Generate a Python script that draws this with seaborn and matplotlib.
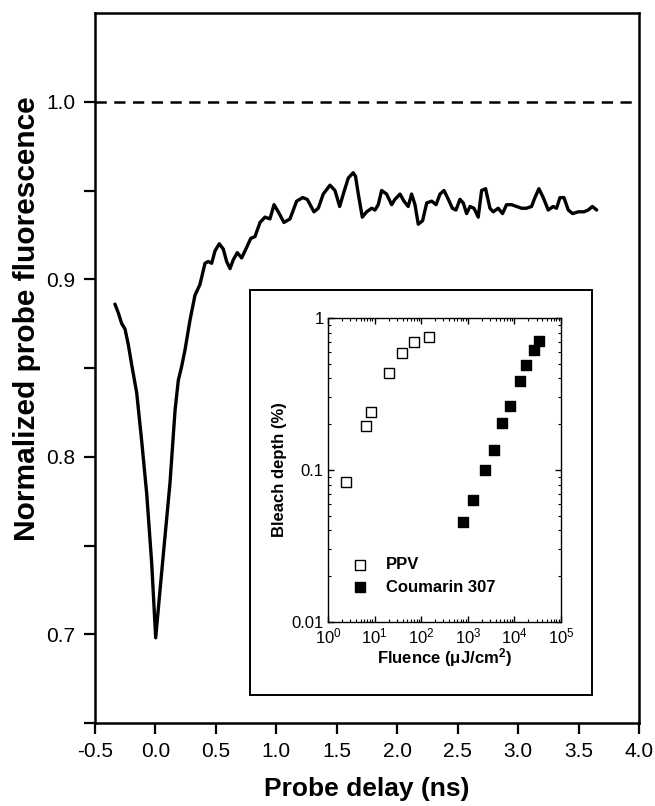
import matplotlib
matplotlib.use("Agg")
import matplotlib.pyplot as plt
import matplotlib.ticker as mticker
from matplotlib.patches import Rectangle
import pandas as pd
import seaborn as sns

# main trace: probe delay (ns) vs normalized probe fluorescence
delay_ns = [
    -0.335, -0.307, -0.279, -0.252, -0.224, -0.197, -0.155, -0.114, -0.072, -0.031,
    0.002, 0.038, 0.079, 0.120, 0.162, 0.189, 0.217, 0.244, 0.286, 0.327,
    0.368, 0.410, 0.437, 0.465, 0.493, 0.528, 0.561, 0.589, 0.617, 0.644,
    0.677, 0.713, 0.755, 0.788, 0.823, 0.865, 0.906, 0.947, 0.981, 1.016,
    1.063, 1.113, 1.168, 1.218, 1.256, 1.311, 1.347, 1.388, 1.444, 1.485,
    1.524, 1.554, 1.595, 1.636, 1.655, 1.678, 1.711, 1.747, 1.789, 1.816,
    1.843, 1.871, 1.912, 1.954, 1.981, 2.023, 2.056, 2.091, 2.119, 2.147,
    2.174, 2.210, 2.244, 2.285, 2.321, 2.354, 2.387, 2.423, 2.456, 2.486,
    2.519, 2.546, 2.574, 2.602, 2.635, 2.670, 2.698, 2.731, 2.767, 2.794,
    2.835, 2.871, 2.904, 2.946, 2.987, 3.029, 3.070, 3.111, 3.139, 3.172,
    3.208, 3.249, 3.291, 3.318, 3.346, 3.379, 3.415, 3.451, 3.498, 3.545,
    3.580, 3.614, 3.650,
]
fluor = [
    0.886, 0.881, 0.875, 0.872, 0.863, 0.852, 0.836, 0.809, 0.779, 0.740,
    0.698, 0.725, 0.755, 0.785, 0.826, 0.843, 0.851, 0.860, 0.877, 0.891,
    0.897, 0.909, 0.910, 0.909, 0.916, 0.920, 0.917, 0.910, 0.906, 0.911,
    0.915, 0.912, 0.918, 0.923, 0.924, 0.932, 0.935, 0.934, 0.942, 0.938,
    0.932, 0.934, 0.944, 0.946, 0.945, 0.938, 0.940, 0.948, 0.953, 0.950,
    0.941, 0.948, 0.957, 0.960, 0.958, 0.948, 0.935, 0.938, 0.940, 0.939,
    0.942, 0.950, 0.948, 0.942, 0.945, 0.948, 0.944, 0.941, 0.948, 0.942,
    0.931, 0.933, 0.943, 0.944, 0.942, 0.948, 0.950, 0.945, 0.940, 0.939,
    0.945, 0.943, 0.937, 0.941, 0.940, 0.935, 0.950, 0.951, 0.940, 0.938,
    0.940, 0.937, 0.942, 0.942, 0.941, 0.940, 0.940, 0.941, 0.946, 0.951,
    0.946, 0.939, 0.941, 0.940, 0.946, 0.946, 0.939, 0.937, 0.938, 0.938,
    0.939, 0.941, 0.939,
]

# inset: bleach depth vs fluence
ppv_fluence = [2.44, 6.6, 8.3, 20.8, 39.6, 71.8, 149]
ppv_bleach = [0.084, 0.194, 0.240, 0.433, 0.590, 0.698, 0.753]
c307_fluence = [773, 1294, 2297, 3659, 5521, 8091, 13460, 17850, 26540, 33340]
c307_bleach = [0.0453, 0.0635, 0.0995, 0.136, 0.205, 0.264, 0.387, 0.493, 0.616, 0.706]

sns.set_style("ticks", {"axes.edgecolor": "black", "text.color": "black",
                        "xtick.color": "black", "ytick.color": "black",
                        "axes.labelcolor": "black"})
plt.rcParams["font.family"] = ["Liberation Sans", "DejaVu Sans"]
plt.rcParams["mathtext.default"] = "regular"

W, H = 655, 806
fig = plt.figure(figsize=(W / 100, H / 100), dpi=100)

# main axes
ax = fig.add_axes([95 / W, 83 / H, 544 / W, 710 / H])
sns.lineplot(x=delay_ns, y=fluor, sort=False, estimator=None,
             color="black", linewidth=2.4, ax=ax)
ax.axhline(1.0, color="black", linestyle=(0, (4.5, 3)), linewidth=1.8)

ax.set_xlim(-0.5, 4.0)
ax.set_ylim(0.65, 1.05)
ax.xaxis.set_major_locator(mticker.MultipleLocator(0.5))
ax.xaxis.set_major_formatter(mticker.FormatStrFormatter("%.1f"))
ax.yaxis.set_major_locator(mticker.FixedLocator([0.7, 0.8, 0.9, 1.0]))
ax.yaxis.set_minor_locator(mticker.FixedLocator([0.65, 0.75, 0.85, 0.95]))
ax.yaxis.set_major_formatter(mticker.FormatStrFormatter("%.1f"))
ax.tick_params(axis="both", which="both", direction="out", length=8,
               width=1.6, labelsize=15, top=False, right=False, pad=6)
for s in ax.spines.values():
    s.set_linewidth(1.8)
    s.set_visible(True)
ax.set_xlabel("Probe delay (ns)", fontsize=19, fontweight="bold", labelpad=11)
ax.set_ylabel("Normalized probe fluorescence", fontsize=21.5, fontweight="bold")
ax.yaxis.set_label_coords(-0.10, 0.57)

# box around the inset
box = Rectangle((250 / W, (H - 695) / H), (592 - 250) / W, (695 - 290) / H,
                transform=fig.transFigure, fill=False, edgecolor="black",
                linewidth=1.4, zorder=5)
fig.add_artist(box)

# inset axes
ins = fig.add_axes([328 / W, (H - 622) / H, (561 - 328) / W, (622 - 318) / H])
inset_df = pd.DataFrame({
    "fluence": ppv_fluence + c307_fluence,
    "bleach": ppv_bleach + c307_bleach,
    "sample": ["PPV"] * len(ppv_fluence) + ["Coumarin 307"] * len(c307_fluence),
})
sns.scatterplot(data=inset_df[inset_df["sample"] == "PPV"], x="fluence", y="bleach",
                marker="s", s=55, facecolor="white", edgecolor="black",
                linewidth=1.0, label="PPV", ax=ins)
sns.scatterplot(data=inset_df[inset_df["sample"] == "Coumarin 307"], x="fluence",
                y="bleach", marker="s", s=55, color="black", edgecolor="black",
                linewidth=1.0, label="Coumarin 307", ax=ins)
ins.set_xscale("log")
ins.set_yscale("log")
ins.set_xlim(1, 1e5)
ins.set_ylim(0.01, 1)
ins.xaxis.set_major_locator(mticker.LogLocator(base=10, numticks=10))
ins.xaxis.set_minor_locator(mticker.LogLocator(base=10, subs=range(2, 10), numticks=10))
ins.yaxis.set_major_locator(mticker.FixedLocator([0.01, 0.1, 1]))
ins.yaxis.set_minor_locator(mticker.LogLocator(base=10, subs=range(2, 10), numticks=10))
ins.yaxis.set_major_formatter(mticker.FuncFormatter(lambda v, p: f"{v:g}"))
ins.tick_params(axis="both", which="major", direction="in", length=4, width=1.0,
                labelsize=12, top=True, right=True, pad=3)
ins.tick_params(axis="both", which="minor", direction="in", length=2, width=0.8,
                top=True, right=True)
for s in ins.spines.values():
    s.set_linewidth(1.0)
    s.set_visible(True)
ins.set_xlabel("Fluence (μJ/cm$^2$)", fontsize=12, fontweight="bold", labelpad=0)
ins.set_ylabel("Bleach depth (%)", fontsize=12, fontweight="bold", labelpad=3)
leg = ins.legend(loc="lower left", bbox_to_anchor=(0.0, 0.04), frameon=False,
                 handletextpad=0.6, labelspacing=0.45, markerscale=0.9,
                 prop={"weight": "bold", "size": 12})

fig.savefig("out.png", dpi=100)
